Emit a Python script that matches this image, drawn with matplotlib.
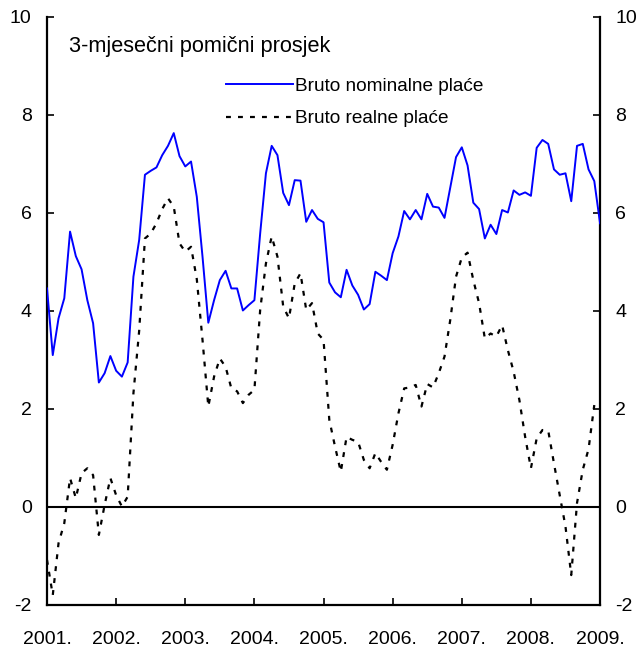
import matplotlib
matplotlib.use("Agg")
import matplotlib.pyplot as plt
import numpy as np

plt.rcParams['font.family'] = ['Liberation Sans', 'DejaVu Sans']

start_year = 2001
nominal = [4.46, 3.10, 3.85, 4.26, 5.62, 5.12, 4.85, 4.22, 3.75, 2.54, 2.73, 3.08,
           2.78, 2.66, 2.95, 4.70, 5.45, 6.78, 6.86, 6.93, 7.18, 7.37, 7.63, 7.16,
           6.95, 7.05, 6.33, 5.10, 3.76, 4.22, 4.63, 4.82, 4.46, 4.46, 4.01, 4.12,
           4.22, 5.58, 6.81, 7.37, 7.18, 6.41, 6.16, 6.67, 6.66, 5.82, 6.06, 5.88,
           5.81, 4.58, 4.38, 4.28, 4.84, 4.52, 4.33, 4.03, 4.14, 4.80, 4.72, 4.63,
           5.18, 5.52, 6.04, 5.87, 6.06, 5.87, 6.39, 6.13, 6.11, 5.90, 6.52, 7.14,
           7.34, 6.97, 6.21, 6.08, 5.48, 5.76, 5.57, 6.06, 6.01, 6.46, 6.37, 6.42,
           6.35, 7.33, 7.49, 7.41, 6.89, 6.78, 6.81, 6.24, 7.37, 7.41, 6.89, 6.65,
           5.79]
real = [-1.08, -1.80, -0.74, -0.33, 0.59, 0.18, 0.69, 0.79, 0.65, -0.57, 0.04, 0.59,
        0.24, 0.01, 0.21, 2.32, 3.60, 5.48, 5.58, 5.79, 6.08, 6.30, 6.13, 5.38,
        5.21, 5.31, 4.65, 3.40, 2.05, 2.66, 3.03, 2.86, 2.42, 2.36, 2.12, 2.29,
        2.39, 4.02, 4.97, 5.52, 5.11, 4.09, 3.85, 4.56, 4.77, 4.02, 4.16, 3.54,
        3.41, 1.78, 1.23, 0.72, 1.43, 1.37, 1.33, 0.96, 0.79, 1.10, 0.92, 0.76,
        1.27, 1.91, 2.42, 2.44, 2.49, 2.05, 2.51, 2.44, 2.73, 3.07, 3.82, 4.70,
        5.09, 5.19, 4.63, 4.16, 3.44, 3.54, 3.48, 3.71, 3.20, 2.76, 2.18, 1.43,
        0.79, 1.40, 1.57, 1.56, 0.89, 0.24, -0.40, -1.39, 0.08, 0.76, 1.18, 2.08]
years = list(range(2001, 2010))
year_labels = [f"{y}." for y in years]
yticks = [-2, 0, 2, 4, 6, 8, 10]

x_nom = start_year + np.arange(len(nominal)) / 12.0
x_real = start_year + np.arange(len(real)) / 12.0

fig = plt.figure(figsize=(6.37, 6.48), dpi=100)
ax = fig.add_axes([0.0738, 0.0664, 0.8682, 0.9074])

ax.axhline(0, color='black', lw=1.5, zorder=1)
ax.plot(x_nom, nominal, color='#0000FF', lw=1.4, label='Bruto nominalne plaće', zorder=3)
ax.plot(x_real, real, color='black', lw=1.6, linestyle=(0, (2.2, 3.2)),
        label='Bruto realne plaće', zorder=2)

ax.set_xlim(2001, 2009)
ax.set_ylim(-2, 10)
ax.set_xticks(years)
ax.set_xticklabels(year_labels)
ax.set_yticks(yticks)
ax.set_yticklabels([str(v) for v in yticks])

ax.spines['top'].set_visible(False)
for s in ['left', 'right', 'bottom']:
    ax.spines[s].set_linewidth(1.6)
ax.tick_params(axis='both', direction='in', length=5, width=1.2, labelsize=14)
ax.tick_params(axis='y', pad=11, left=True, right=True, labelleft=True, labelright=True)
ax.tick_params(axis='x', pad=19)

ax.text(0.04, 0.968, '3-mjesečni pomični prosjek', transform=ax.transAxes,
        fontsize=15.7, ha='left', va='top')

leg = ax.legend(loc='upper left', bbox_to_anchor=(0.31, 0.91), frameon=False,
                fontsize=13.7, handlelength=3.5, handletextpad=0.1, labelspacing=0.8,
                borderaxespad=0)

fig.savefig('out.png', dpi=100)
